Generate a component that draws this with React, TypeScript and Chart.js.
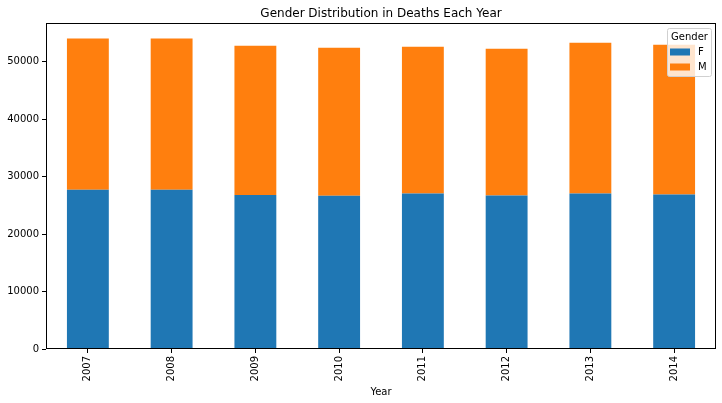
import Chart from "chart.js/auto";
import { useEffect, useRef } from "react";

const years = ["2007", "2008", "2009", "2010", "2011", "2012", "2013", "2014"];
const female = [27700, 27700, 26800, 26650, 27050, 26700, 27050, 26850];
const male = [26300, 26300, 25950, 25750, 25500, 25500, 26200, 26050];
const yTicks = [0, 10000, 20000, 30000, 40000, 50000];
const yMax = 56700;

const FONT = "'DejaVu Sans', sans-serif";

// axes frame, title and legend drawn like matplotlib
const framePlugin = {
  id: "frame",
  afterDraw(chart: Chart) {
    const { ctx, chartArea: a } = chart;
    ctx.save();
    ctx.strokeStyle = "#000";
    ctx.lineWidth = 1;
    ctx.strokeRect(a.left + 0.5, a.top + 0.5, a.right - a.left - 1, a.bottom - a.top - 1);

    // title centred over the axes
    ctx.fillStyle = "#000";
    ctx.font = `12px ${FONT}`;
    ctx.textAlign = "center";
    ctx.textBaseline = "alphabetic";
    ctx.fillText("Gender Distribution in Deaths Each Year", (a.left + a.right) / 2, a.top - 6);

    // legend
    const bx = a.right - 49;
    const by = a.top + 5;
    const bw = 44;
    const bh = 48;
    ctx.fillStyle = "rgba(255,255,255,0.8)";
    ctx.strokeStyle = "#d0d0d0";
    ctx.beginPath();
    ctx.roundRect(bx + 0.5, by + 0.5, bw, bh, 2);
    ctx.fill();
    ctx.stroke();
    ctx.fillStyle = "#000";
    ctx.font = `10px ${FONT}`;
    ctx.textBaseline = "middle";
    ctx.textAlign = "center";
    ctx.fillText("Gender", bx + bw / 2 + 0.5, by + 9);
    ctx.textAlign = "left";
    const items = [
      { label: "F", color: "#1f77b4", y: by + 24 },
      { label: "M", color: "#ff7f0e", y: by + 39 },
    ];
    for (const it of items) {
      ctx.fillStyle = it.color;
      ctx.fillRect(bx + 3, it.y - 3.5, 20, 7);
      ctx.fillStyle = "#000";
      ctx.fillText(it.label, bx + 31, it.y);
    }
    ctx.restore();
  },
};

export default function App() {
  const canvasRef = useRef<HTMLCanvasElement | null>(null);
  const chartRef = useRef<Chart | null>(null);

  useEffect(() => {
    if (!canvasRef.current) {
      return;
    }
    chartRef.current?.destroy();

    chartRef.current = new Chart(canvasRef.current, {
      type: "bar",
      data: {
        labels: years,
        datasets: [
          {
            label: "F",
            data: female,
            backgroundColor: "#1f77b4",
            borderWidth: 0,
            categoryPercentage: 1,
            barPercentage: 0.5,
          },
          {
            label: "M",
            data: male,
            backgroundColor: "#ff7f0e",
            borderWidth: 0,
            categoryPercentage: 1,
            barPercentage: 0.5,
          },
        ],
      },
      options: {
        animation: false,
        responsive: false,
        devicePixelRatio: 1,
        layout: { padding: { left: 0, right: 6, top: 23, bottom: 0 } },
        plugins: {
          legend: { display: false },
          tooltip: { enabled: false },
          title: { display: false },
        },
        scales: {
          x: {
            stacked: true,
            offset: true,
            grid: { display: true, offset: false, drawOnChartArea: false, tickLength: 4, color: "#000" },
            border: { display: false },
            ticks: {
              color: "#000",
              minRotation: 90,
              maxRotation: 90,
              padding: 3,
              font: { family: FONT, size: 10 },
            },
            title: {
              display: true,
              text: "Year",
              color: "#000",
              font: { family: FONT, size: 10 },
              padding: { top: 0, bottom: 5 },
            },
            afterFit(scale: any) {
              scale.height = 54;
            },
          },
          y: {
            stacked: true,
            min: 0,
            max: yMax,
            grid: { display: true, drawOnChartArea: false, tickLength: 4, color: "#000" },
            border: { display: false },
            ticks: {
              color: "#000",
              padding: 3,
              font: { family: FONT, size: 10 },
              callback: (v: any) => String(v),
            },
            afterBuildTicks(scale: any) {
              scale.ticks = yTicks.map((v) => ({ value: v }));
            },
            afterFit(scale: any) {
              scale.width = 46;
            },
          },
        },
      },
      plugins: [framePlugin],
    });

    return () => {
      chartRef.current?.destroy();
    };
  }, []);

  return (
    <div style={{ position: "absolute", left: 0, top: 0, width: 722, height: 403, background: "#fff" }}>
      <canvas ref={canvasRef} width={722} height={403} />
    </div>
  );
}
